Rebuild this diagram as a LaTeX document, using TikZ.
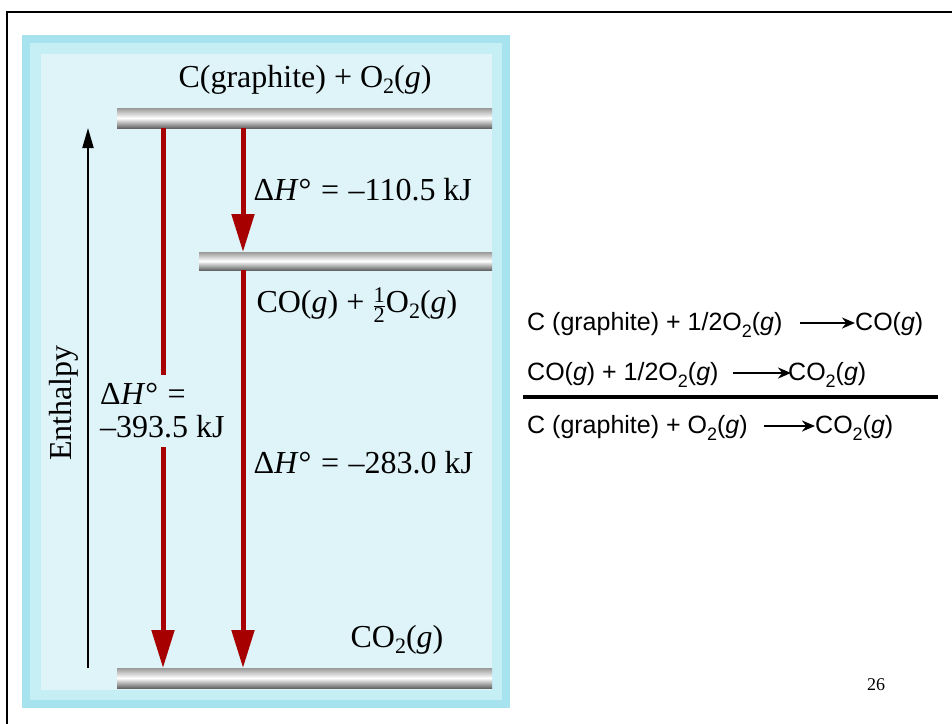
\documentclass[tikz,border=0pt]{standalone}
\usepackage{amsmath}
\usepackage{fontspec}
\setmainfont{Liberation Serif}
\setsansfont{Liberation Sans}
\usepackage{tikz}
\usetikzlibrary{arrows.meta}

\definecolor{panelbg}{HTML}{DFF4F9}
\definecolor{panelrim}{HTML}{A6E3EE}
\definecolor{panelrimlt}{HTML}{C6EEF5}
\definecolor{dhred}{HTML}{A60000}

\newcommand{\half}{\ensuremath{\frac{\text{1}}{\text{2}}}}
\newcommand{\dH}[1]{Δ\textit{H}°\hspace{0.3em}=\hspace{0.3em}#1}
\newcommand{\psub}[1]{\raisebox{-6pt}{\fontsize{22}{24}\selectfont #1}}
\newcommand{\esub}[1]{\raisebox{-7pt}{\fontsize{18}{20}\selectfont #1}}

\tikzset{
  panelfont/.style={font=\fontsize{32}{36}\selectfont},
  eqfont/.style={font=\sffamily\fontsize{25}{29}\selectfont, inner sep=0pt},
  levelbar/.style={top color=gray!80, bottom color=gray!80!black, middle color=white},
  dharrow/.style={draw=dhred, line width=5pt, -{Triangle[width=22pt,length=38pt]}},
  eqarrow/.style={line width=2.5pt, -{Stealth[length=13pt,width=11pt]}},
}

\begin{document}
\begin{tikzpicture}[x=1pt,y=-1pt]
  \useasboundingbox (0,0) rectangle (952,723);
  % slide frame
  \draw[line width=2pt] (7,730) |- (960,12);

  % panel
  \fill[panelrim] (22,35) rectangle (510,708);
  \fill[panelrimlt] (30,43) rectangle (502,700);
  \fill[panelbg] (41,54) rectangle (492,690);

  % enthalpy levels
  \shade[levelbar] (117,108) rectangle (492,128);
  \shade[levelbar] (199,252) rectangle (492,270);
  \shade[levelbar] (117,668) rectangle (492,688);
  \coordinate (top-a) at (163,128);
  \coordinate (top-b) at (243,128);
  \coordinate (mid-up) at (243,252);
  \coordinate (mid-dn) at (243,270);
  \coordinate (bot-a) at (163,668);
  \coordinate (bot-b) at (243,668);

  \node[panelfont] (lvl-top) at (305,80) {C(graphite) + O\psub{2}(\textit{g})};
  \node[panelfont,anchor=west] (lvl-mid) at (253,305) {CO(\textit{g}) + \half O\psub{2}(\textit{g})};
  \node[panelfont] (lvl-bot) at (397,640) {CO\psub{2}(\textit{g})};

  % enthalpy axis
  \coordinate (ax-lo) at (88,668);
  \coordinate (ax-hi) at (88,128);
  \draw[line width=2pt,-{Triangle[width=11pt,length=20pt]}] (ax-lo) -- (ax-hi);
  \node[panelfont,rotate=90] (ax-lbl) at (64,403) {Enthalpy};

  % steps
  \draw[dharrow] (top-a) -- (bot-a);
  \draw[dharrow] (top-b) -- (mid-up);
  \draw[dharrow] (mid-dn) -- (bot-b);
  \node[panelfont,anchor=west] (dh-1) at (250,190) {\dH{–110.5 kJ}};
  \node[panelfont,anchor=west,fill=panelbg,align=left,inner xsep=2pt,inner ysep=9pt] (dh-tot) at (98,411)
    {\dH{}\\[-3pt]–393.5 kJ};
  \node[panelfont,anchor=west] (dh-2) at (250,463) {\dH{–283.0 kJ}};

  % Hess's law sum
  \node[eqfont,anchor=base west] (r1) at (527,330) {C (graphite) + 1/2O\esub{2}(\textit{g})};
  \node[eqfont,anchor=base west] (p1) at (855,330) {CO(\textit{g})};
  \node[eqfont,anchor=base west] (r2) at (527,380) {CO(\textit{g}) + 1/2O\esub{2}(\textit{g})};
  \node[eqfont,anchor=base west] (p2) at (788,380) {CO\esub{2}(\textit{g})};
  \node[eqfont,anchor=base west] (r3) at (527,433) {C (graphite) + O\esub{2}(\textit{g})};
  \node[eqfont,anchor=base west] (p3) at (815,433) {CO\esub{2}(\textit{g})};
  \draw[eqarrow] ([xshift=17pt,yshift=7pt]r1.base east) -- ([yshift=7pt]p1.base west);
  \draw[eqarrow] ([xshift=14pt,yshift=7pt]r2.base east) -- ([xshift=3pt,yshift=7pt]p2.base west);
  \draw[eqarrow] ([xshift=16pt,yshift=7pt]r3.base east) -- ([yshift=7pt]p3.base west);
  \coordinate (sum-l) at (523,397);
  \coordinate (sum-r) at (938,397);
  \draw[line width=4pt] (sum-l) -- (sum-r);

  \node[font=\fontsize{18}{20}\selectfont] (pg) at (876,685) {26};
\end{tikzpicture}
\end{document}
